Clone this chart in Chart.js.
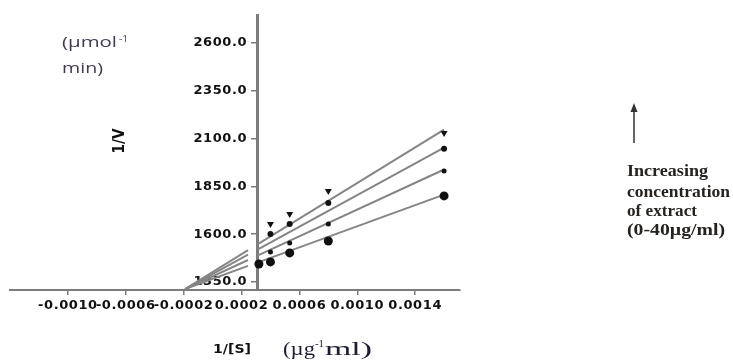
<!DOCTYPE html>
<html>
<head>
<meta charset="utf-8">
<script src="https://cdn.jsdelivr.net/npm/chart.js@4.4.1/dist/chart.umd.min.js"></script>
<style>
  html, body { margin: 0; padding: 0; background: #fff; overflow: hidden; }
  canvas { display: block; }
</style>
</head>
<body>
<canvas id="lb" width="733" height="364"></canvas>
<script>
// Lineweaver-Burk plot: 1/V against 1/[S] for four extract concentrations

// 1/[S] values (µg^-1 ml)
const invS = [0.00032, 0.0004, 0.000533, 0.0008, 0.0016];

// 1/V at each 1/[S], from lowest to highest extract concentration
const invV_0 = [1444, 1455, 1502, 1564, 1800];
const invV_1 = [null, 1507, 1554, 1653, 1930];
const invV_2 = [null, 1601, 1653, 1763, 2046];
const invV_3 = [null, 1653, 1706, 1826, 2129];

// fitted regression lines, broken around the y axis
const fitX   = [-0.00019, 0.000245, 0.00028, 0.00031, 0.0016];
const fit_0  = [1313, 1434, null, 1451, 1807];
const fit_1  = [1313, 1465, null, 1488, 1938];
const fit_2  = [1313, 1493, null, 1519, 2053];
const fit_3  = [1313, 1516, null, 1547, 2147];

// axis ticks
const xTickValues = [-0.001, -0.0006, -0.0002, 0.0002, 0.0006, 0.001, 0.0014];
const xTickLabels = ['-0.0010', '-0.0006', '-0.0002', '0.0002', '0.0006', '0.0010', '0.0014'];
const yTickValues = [1350, 1600, 1850, 2100, 2350, 2600];
const yTickLabels = ['1350.0', '1600.0', '1850.0', '2100.0', '2350.0', '2600.0'];

// annotation texts
const yUnit = ['(\u00b5mol', '-1', 'min)'];
const yTitle = '1/V';
const xTitle = '1/[S]';
const xUnit = ['(\u00b5g', '-1', 'ml)'];
const noteLines = ['Increasing', 'concentration', 'of extract', '(0-40\u00b5g/ml)'];

const ink = '#111111';
const fitGrey = '#858585';
const axisGrey = '#7c7c7c';

function pairs(xs, ys) {
  return xs.map((x, i) => ({ x: x, y: ys[i] })).filter(p => p.y !== null);
}
function linePairs(xs, ys) {
  return xs.map((x, i) => ({ x: x, y: ys[i] }));
}

const fitStyle = {
  showLine: true, borderColor: fitGrey, borderWidth: 2, pointRadius: 0,
  pointHoverRadius: 0, spanGaps: false, fill: false, order: 2
};

const datasets = [
  Object.assign({ label: 'fit 0', data: linePairs(fitX, fit_0) }, fitStyle),
  Object.assign({ label: 'fit 1', data: linePairs(fitX, fit_1) }, fitStyle),
  Object.assign({ label: 'fit 2', data: linePairs(fitX, fit_2) }, fitStyle),
  Object.assign({ label: 'fit 3', data: linePairs(fitX, fit_3) }, fitStyle),
  { label: '0 \u00b5g/ml', data: pairs(invS, invV_0), pointStyle: 'circle', pointRadius: 4.5,
    backgroundColor: ink, borderColor: ink, borderWidth: 0, order: 0 },
  { label: 'level 1', data: pairs(invS, invV_1), pointStyle: 'circle', pointRadius: 2.5,
    backgroundColor: ink, borderColor: ink, borderWidth: 0, order: 0 },
  { label: 'level 2', data: pairs(invS, invV_2), pointStyle: 'circle', pointRadius: 3,
    backgroundColor: ink, borderColor: ink, borderWidth: 0, order: 0 },
  { label: '40 \u00b5g/ml', data: pairs(invS, invV_3), pointStyle: 'triangle', rotation: 180,
    pointRadius: 4, backgroundColor: ink, borderColor: ink, borderWidth: 0, order: 0 }
];

const tickFont = { family: 'DejaVu Sans', weight: 'bold', size: 13 };

// draw text squeezed or stretched horizontally to a given width
function fitText(ctx, text, x, y, font, color, width) {
  ctx.save();
  ctx.font = font;
  ctx.fillStyle = color;
  ctx.textAlign = 'left';
  ctx.textBaseline = 'alphabetic';
  const w = ctx.measureText(text).width;
  const sx = width ? width / w : 1;
  ctx.translate(x, y);
  ctx.scale(sx, 1);
  ctx.fillText(text, 0, 0);
  ctx.restore();
  return w * sx;
}

const tickSpacing = {
  id: 'tickSpacing',
  beforeDraw(chart) { chart.ctx.letterSpacing = '0.6px'; }
};

const annotations = {
  id: 'annotations',
  afterDraw(chart) {
    const ctx = chart.ctx;
    ctx.save();
    ctx.letterSpacing = '0px';

    // y units, top left
    const unitCol = '#433b52';
    fitText(ctx, yUnit[0], 62, 47, '15px "Open Sans"', unitCol, 55);
    fitText(ctx, yUnit[1], 119, 42, '9px "Open Sans"', unitCol, 9);
    fitText(ctx, yUnit[2], 62, 73, '15px "Open Sans"', unitCol, 41);

    // y title, rotated
    ctx.save();
    ctx.translate(120, 141);
    ctx.rotate(-Math.PI / 2);
    ctx.font = 'bold 13px "DejaVu Sans"';
    ctx.fillStyle = ink;
    ctx.textBaseline = 'middle';
    const tw = ctx.measureText(yTitle).width;
    ctx.scale(25 / tw, 1.25);
    ctx.textAlign = 'center';
    ctx.fillText(yTitle, 0, 0);
    ctx.restore();

    // x title and units
    fitText(ctx, xTitle, 213, 353, 'bold 13px "DejaVu Sans"', ink, 38);
    const serifCol = '#1d1d35';
    let x = 283;
    x += fitText(ctx, xUnit[0], x, 355, '18px "Liberation Serif"', serifCol, 32);
    x += fitText(ctx, xUnit[1], x, 347, '11px "Liberation Serif"', serifCol, 9);
    fitText(ctx, xUnit[2], x + 1, 355, '18px "Liberation Serif"', serifCol, 47);

    // arrow
    ctx.strokeStyle = '#333333';
    ctx.fillStyle = '#333333';
    ctx.lineWidth = 1.5;
    ctx.beginPath();
    ctx.moveTo(634, 143);
    ctx.lineTo(634, 110);
    ctx.stroke();
    ctx.beginPath();
    ctx.moveTo(634, 103);
    ctx.lineTo(630.5, 112);
    ctx.lineTo(637.5, 112);
    ctx.closePath();
    ctx.fill();

    // note text
    const noteCol = '#26221f';
    const noteWidths = [81, 103, 70, 98];
    const noteBase = [176, 197, 216, 235];
    noteLines.forEach((t, i) => {
      fitText(ctx, t, 627, noteBase[i], 'bold 16px "Liberation Serif"', noteCol, noteWidths[i]);
    });
    ctx.restore();
  }
};

new Chart(document.getElementById('lb'), {
  type: 'scatter',
  data: { datasets: datasets },
  options: {
    responsive: false,
    animation: false,
    devicePixelRatio: 1,
    layout: { padding: { left: 10, right: 273, top: 15, bottom: 0 } },
    plugins: { legend: { display: false }, tooltip: { enabled: false } },
    scales: {
      x: {
        type: 'linear',
        position: 'bottom',
        min: -0.0014,
        max: 0.00171,
        grid: { drawOnChartArea: false, drawTicks: true, tickLength: 5, color: axisGrey, lineWidth: 1.5 },
        border: { display: true, color: axisGrey, width: 2 },
        ticks: {
          autoSkip: false, maxRotation: 0, minRotation: 0, padding: 3, color: ink, font: tickFont,
          callback: (v, i) => xTickLabels[i]
        },
        afterBuildTicks: s => { s.ticks = xTickValues.map(v => ({ value: v })); },
        afterFit: s => { s.height = 74; }
      },
      y: {
        type: 'linear',
        position: { x: 0.00031 },
        min: 1308,
        max: 2746,
        grid: { drawOnChartArea: false, drawTicks: true, tickLength: 5, color: axisGrey, lineWidth: 1.5 },
        border: { display: true, color: axisGrey, width: 3 },
        ticks: {
          autoSkip: false, padding: 4, color: ink, font: tickFont,
          // labels on an axis placed at a value are right-aligned on the axis line,
          // so trailing spaces keep them clear of the tick marks
          callback: (v, i) => yTickLabels[i] + '  '
        },
        afterBuildTicks: s => { s.ticks = yTickValues.map(v => ({ value: v })); }
      }
    }
  },
  plugins: [tickSpacing, annotations]
});
</script>
</body>
</html>
